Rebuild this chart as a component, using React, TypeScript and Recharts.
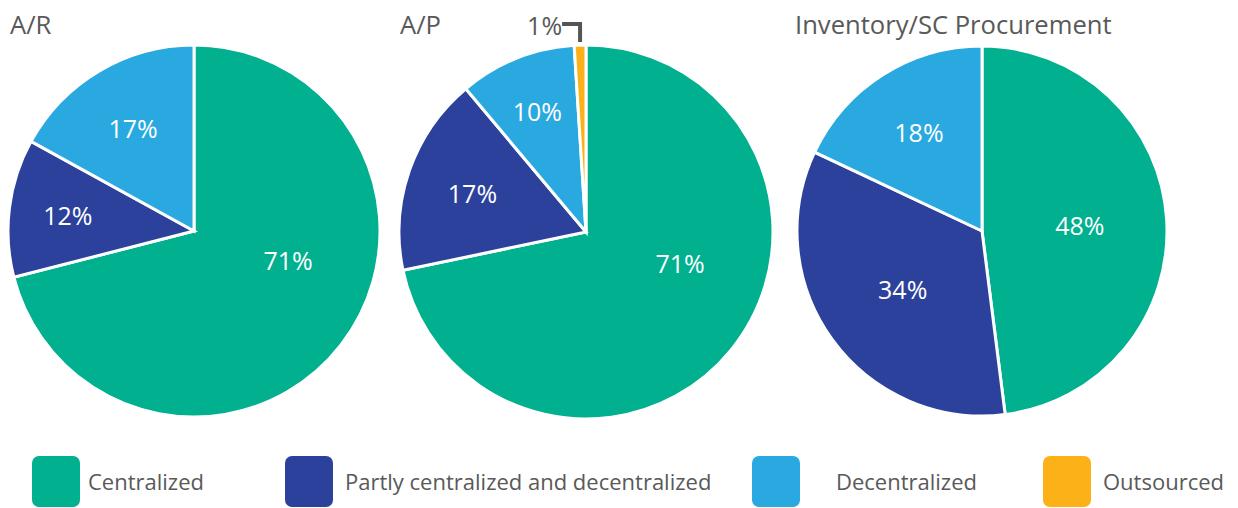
import { PieChart, Pie, Cell } from "recharts";

// categories and colours
const categories = [
  "Centralized",
  "Partly centralized and decentralized",
  "Decentralized",
  "Outsourced",
];
const colors = ["#00b08f", "#2c419b", "#29a9e0", "#fbb117"];

// values (%) per chart, clockwise from 12 o'clock
const arValues = [71, 12, 17];
const apValues = [71, 17, 10, 1];
const invValues = [48, 34, 18];

const titles = ["A/R", "A/P", "Inventory/SC Procurement"];

const TEXT = "#595959";
const FONT = "'Open Sans', sans-serif";
const RAD = Math.PI / 180;

const toRows = (values: number[]) =>
  values.map((v, i) => ({ name: categories[i], value: v, color: colors[i] }));

function renderLabel(props: any) {
  const { cx, cy, midAngle, outerRadius, percent, value, index } = props;
  if (index === 3) {
    // small outsourced slice: bracket callout above the pie
    const px = cx + outerRadius * Math.cos(-midAngle * RAD);
    const top = cy - outerRadius - 21;
    return (
      <g>
        <path
          d={`M${px},${cy - outerRadius - 3} V${top} H${px - 18}`}
          fill="none"
          stroke="#555"
          strokeWidth={4}
        />
        <text
          x={px - 18}
          y={top + 11}
          textAnchor="end"
          fill={TEXT}
          fontSize={25}
          fontFamily={FONT}
        >
          {value}%
        </text>
      </g>
    );
  }
  // big slices: pull the label a little towards 3 o'clock
  let angle = midAngle;
  if (percent > 0.6) angle = 90 - (90 - midAngle) * 0.84;
  const f = Math.max(0.53, 0.78 - percent * 0.8);
  const r = outerRadius * f;
  const x = cx + r * Math.cos(-angle * RAD);
  const y = cy + r * Math.sin(-angle * RAD);
  return (
    <text
      x={x}
      y={y}
      textAnchor="middle"
      dominantBaseline="central"
      fill="#ffffff"
      fontSize={25}
      fontFamily={FONT}
    >
      {value}%
    </text>
  );
}

const pies = [
  { values: arValues, cx: 194, cy: 231, r: 186 },
  { values: apValues, cx: 586, cy: 232, r: 187 },
  { values: invValues, cx: 982, cy: 231, r: 185 },
];

const titleX = [10, 400, 795];
const legendX = [32, 285, 752, 1043];
const legendTextX = [88, 345, 836, 1103];

export default function App() {
  return (
    <div
      style={{
        position: "absolute",
        left: 0,
        top: 0,
        width: 1238,
        height: 508,
        background: "#fff",
        overflow: "hidden",
      }}
    >
      <div style={{ position: "absolute", left: 0, top: 0 }}>
        <PieChart
          width={1238}
          height={440}
          margin={{ top: 0, right: 0, bottom: 0, left: 0 }}
        >
          {pies.map((p, k) => (
            <Pie
              key={k}
              data={toRows(p.values)}
              dataKey="value"
              cx={p.cx}
              cy={p.cy}
              outerRadius={p.r}
              startAngle={90}
              endAngle={-270}
              stroke="#ffffff"
              strokeWidth={3}
              label={renderLabel}
              labelLine={false}
              isAnimationActive={false}
            >
              {p.values.map((_, i) => (
                <Cell key={i} fill={colors[i]} />
              ))}
            </Pie>
          ))}
        </PieChart>
      </div>
      <svg
        width={1238}
        height={508}
        style={{ position: "absolute", left: 0, top: 0, pointerEvents: "none" }}
      >
        {titles.map((t, i) => (
          <text
            key={t}
            x={titleX[i]}
            y={34}
            fill={TEXT}
            fontSize={25.6}
            fontFamily={FONT}
          >
            {t}
          </text>
        ))}
        {categories.map((c, i) => (
          <g key={c}>
            <rect
              x={legendX[i]}
              y={456}
              width={48}
              height={51}
              rx={7}
              fill={colors[i]}
            />
            <text
              x={legendTextX[i]}
              y={490}
              fill={TEXT}
              fontSize={22}
              fontFamily={FONT}
            >
              {c}
            </text>
          </g>
        ))}
      </svg>
    </div>
  );
}
